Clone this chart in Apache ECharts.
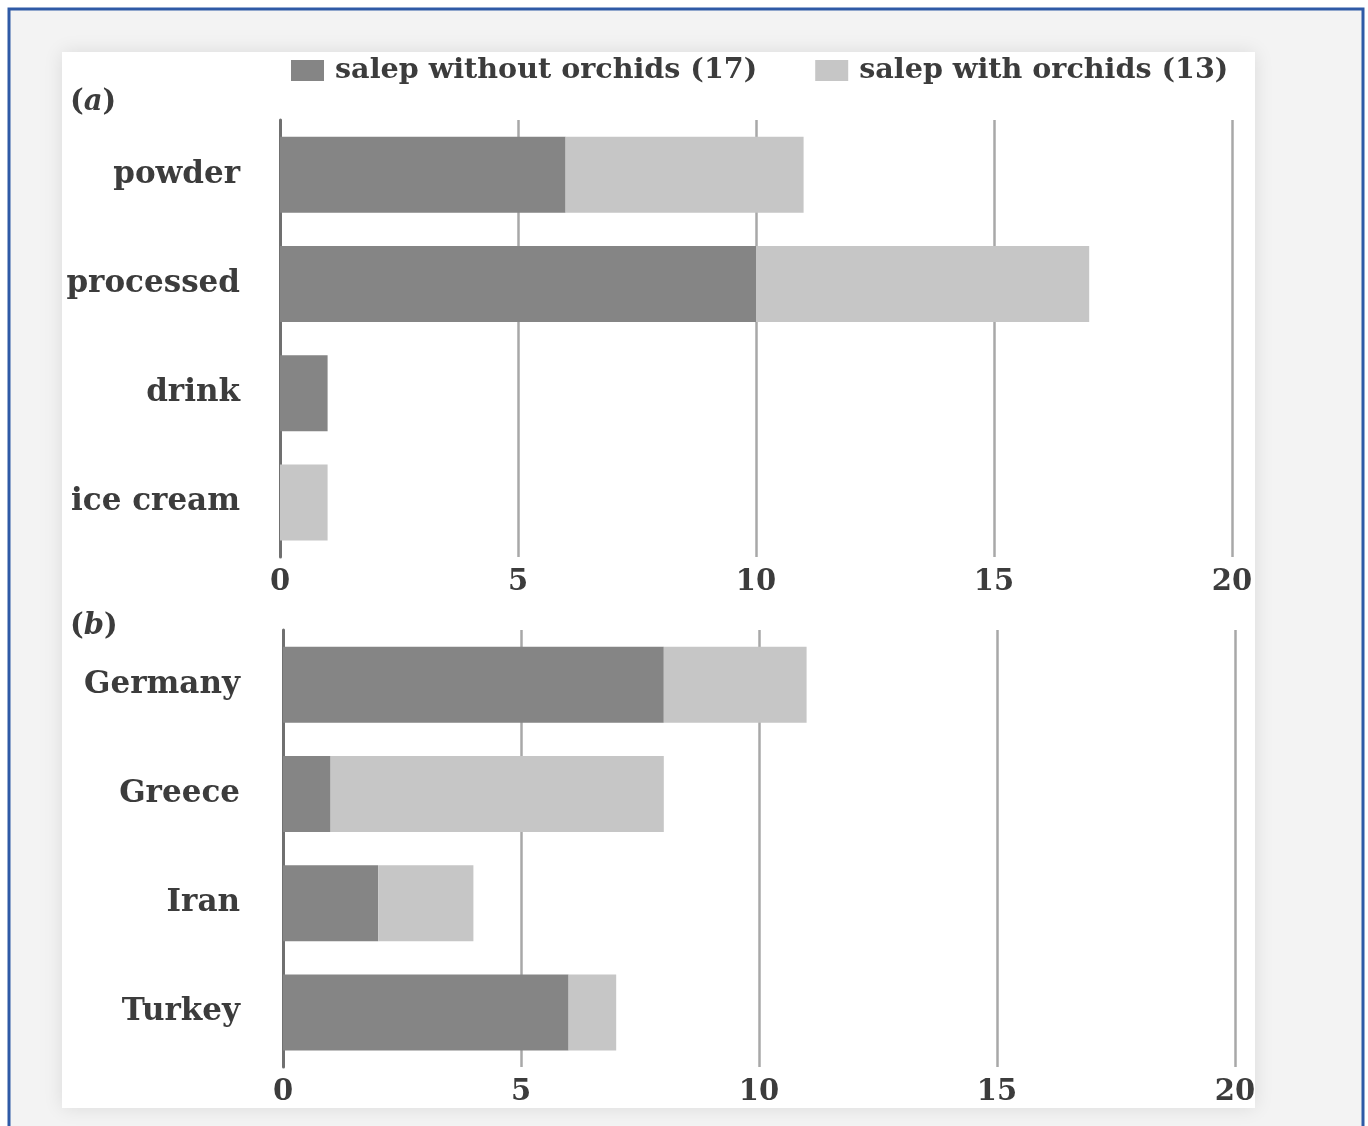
<!DOCTYPE html>
<html>
<head>
<meta charset="utf-8">
<title>Salep products and countries</title>
<script src="https://cdn.jsdelivr.net/npm/echarts@6/dist/echarts.min.js"></script>
<style>
  html, body { margin: 0; padding: 0; background: #ffffff; }
  #chart { width: 1368px; height: 1126px; }
</style>
</head>
<body>
<div id="chart"></div>
<script>
// Series names shown in the legend
const seriesNames = ['salep without orchids (17)', 'salep with orchids (13)'];

// Panel (a): product types
const productCategories = ['powder', 'processed', 'drink', 'ice cream'];
const productWithout = [6, 10, 1, 0];
const productWith = [5, 7, 0, 1];

// Panel (b): countries
const countryCategories = ['Germany', 'Greece', 'Iran', 'Turkey'];
const countryWithout = [8, 1, 2, 6];
const countryWith = [3, 7, 2, 1];

// Value axis ticks
const axisMin = 0;
const axisMax = 20;
const axisStep = 5;

const darkGrey = '#858585';
const lightGrey = '#c6c6c6';
const textColor = '#3c3c3c';
const fontFamily = '"DejaVu Serif", "Liberation Serif", serif';

const chart = echarts.init(document.getElementById('chart'), null, { renderer: 'canvas' });

function valueAxis(gridIndex) {
  return {
    type: 'value',
    gridIndex: gridIndex,
    min: axisMin,
    max: axisMax,
    interval: axisStep,
    axisLine: { show: false },
    axisTick: { show: false },
    splitLine: { show: true, lineStyle: { color: '#a8a8a8', width: 2.5 } },
    axisLabel: {
      margin: 11,
      color: textColor,
      fontFamily: fontFamily,
      fontWeight: 'bold',
      fontSize: 29
    }
  };
}

function categoryAxis(gridIndex, data, margin) {
  return {
    type: 'category',
    gridIndex: gridIndex,
    data: data,
    inverse: true,
    axisLine: { show: true, lineStyle: { color: '#707070', width: 3 } },
    axisTick: { show: false },
    axisLabel: {
      margin: margin,
      color: textColor,
      fontFamily: fontFamily,
      fontWeight: 'bold',
      fontSize: 31
    }
  };
}

function barSeries(name, data, axisIndex, color) {
  return {
    name: name,
    type: 'bar',
    stack: 'total' + axisIndex,
    xAxisIndex: axisIndex,
    yAxisIndex: axisIndex,
    barWidth: 76,
    itemStyle: { color: color },
    emphasis: { disabled: true },
    data: data
  };
}

function panelTag(letter, top) {
  return {
    type: 'text',
    z: 10,
    left: 70,
    top: top,
    style: {
      text: '{p|(}{i|' + letter + '}{p|)}',
      rich: {
        p: { fontFamily: fontFamily, fontWeight: 'bold', fontSize: 29, fill: textColor },
        i: { fontFamily: fontFamily, fontWeight: 'bold', fontStyle: 'italic', fontSize: 29, fill: textColor }
      }
    }
  };
}

const option = {
  animation: false,
  backgroundColor: '#ffffff',
  graphic: [
    {
      type: 'rect',
      z: -20,
      silent: true,
      shape: { x: 9, y: 9, width: 1354, height: 1140 },
      style: { fill: '#f3f3f3', stroke: '#2f5aa6', lineWidth: 3 }
    },
    {
      type: 'rect',
      z: -19,
      silent: true,
      shape: { x: 62, y: 52, width: 1193, height: 1056 },
      style: { fill: '#ffffff', shadowBlur: 18, shadowColor: 'rgba(0,0,0,0.10)' }
    },
    panelTag('a', 88),
    panelTag('b', 612)
  ],
  legend: {
    data: seriesNames,
    left: 286,
    top: 51,
    itemWidth: 33,
    itemHeight: 21,
    itemGap: 58,
    icon: 'rect',
    selectedMode: false,
    textStyle: {
      color: textColor,
      fontFamily: fontFamily,
      fontWeight: 'bold',
      fontSize: 28.6,
      padding: [0, 0, 0, 6]
    }
  },
  grid: [
    { left: 280, right: 136, top: 120, height: 437, containLabel: false },
    { left: 283, right: 133, top: 630, height: 437, containLabel: false }
  ],
  xAxis: [valueAxis(0), valueAxis(1)],
  yAxis: [
    categoryAxis(0, productCategories, 40),
    categoryAxis(1, countryCategories, 43)
  ],
  series: [
    barSeries(seriesNames[0], productWithout, 0, darkGrey),
    barSeries(seriesNames[1], productWith, 0, lightGrey),
    barSeries(seriesNames[0], countryWithout, 1, darkGrey),
    barSeries(seriesNames[1], countryWith, 1, lightGrey)
  ]
};

chart.setOption(option);
</script>
</body>
</html>
